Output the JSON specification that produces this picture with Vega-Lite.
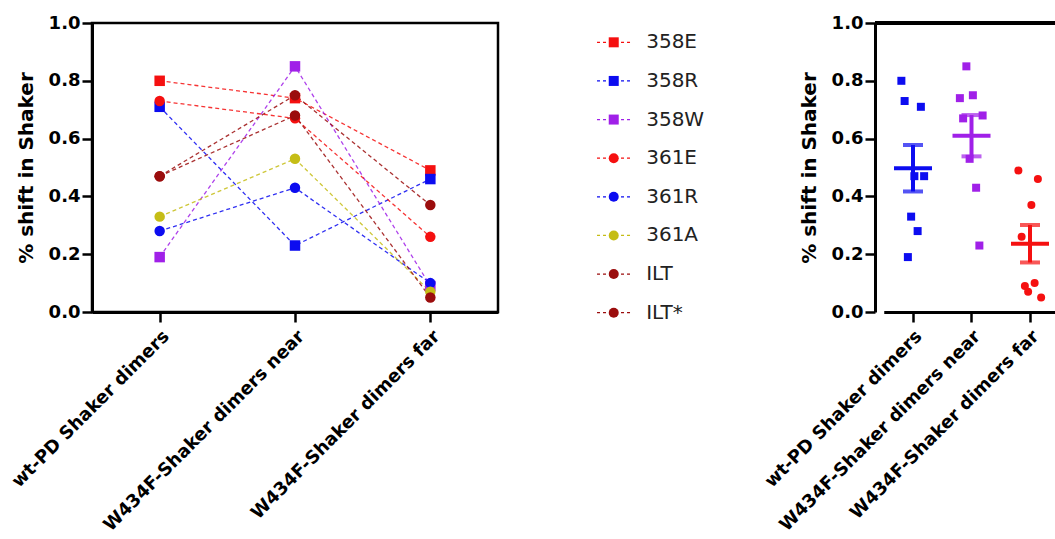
{
  "$schema": "https://vega.github.io/schema/vega-lite/v6.json",
  "padding": {"left": 7, "top": 12, "right": 0, "bottom": 0},
  "background": "white",
  "config": {
    "font": "DejaVu Sans",
    "view": {"stroke": "black", "strokeWidth": 2.5},
    "axis": {
      "domainColor": "black", "domainWidth": 3, "tickColor": "black", "tickWidth": 2.5, "tickSize": 10,
      "labelColor": "black", "labelFont": "DejaVu Sans", "labelFontWeight": "bold", "labelFontSize": 18,
      "titleColor": "black", "titleFont": "DejaVu Sans", "titleFontWeight": "bold", "titleFontSize": 20,
      "grid": false
    }
  },
  "datasets": {
    "shift": [
      {"construct": "358E", "cond": "wt-PD Shaker dimers", "value": 0.80},
      {"construct": "358E", "cond": "W434F-Shaker dimers near", "value": 0.74},
      {"construct": "358E", "cond": "W434F-Shaker dimers far", "value": 0.49},
      {"construct": "358R", "cond": "wt-PD Shaker dimers", "value": 0.71},
      {"construct": "358R", "cond": "W434F-Shaker dimers near", "value": 0.23},
      {"construct": "358R", "cond": "W434F-Shaker dimers far", "value": 0.46},
      {"construct": "358W", "cond": "wt-PD Shaker dimers", "value": 0.19},
      {"construct": "358W", "cond": "W434F-Shaker dimers near", "value": 0.85},
      {"construct": "358W", "cond": "W434F-Shaker dimers far", "value": 0.09},
      {"construct": "361E", "cond": "wt-PD Shaker dimers", "value": 0.73},
      {"construct": "361E", "cond": "W434F-Shaker dimers near", "value": 0.67},
      {"construct": "361E", "cond": "W434F-Shaker dimers far", "value": 0.26},
      {"construct": "361R", "cond": "wt-PD Shaker dimers", "value": 0.28},
      {"construct": "361R", "cond": "W434F-Shaker dimers near", "value": 0.43},
      {"construct": "361R", "cond": "W434F-Shaker dimers far", "value": 0.10},
      {"construct": "361A", "cond": "wt-PD Shaker dimers", "value": 0.33},
      {"construct": "361A", "cond": "W434F-Shaker dimers near", "value": 0.53},
      {"construct": "361A", "cond": "W434F-Shaker dimers far", "value": 0.07},
      {"construct": "ILT", "cond": "wt-PD Shaker dimers", "value": 0.47},
      {"construct": "ILT", "cond": "W434F-Shaker dimers near", "value": 0.75},
      {"construct": "ILT", "cond": "W434F-Shaker dimers far", "value": 0.37},
      {"construct": "ILT*", "cond": "wt-PD Shaker dimers", "value": 0.47},
      {"construct": "ILT*", "cond": "W434F-Shaker dimers near", "value": 0.68},
      {"construct": "ILT*", "cond": "W434F-Shaker dimers far", "value": 0.05}
    ]
  },
  "bounds": "flush",
  "spacing": 100,
  "resolve": {"scale": {"color": "independent", "shape": "independent", "x": "independent", "y": "independent"}},
  "hconcat": [
    {
      "width": 406,
      "height": 289,
      "data": {"name": "shift"},
      "encoding": {
        "x": {"field": "cond", "type": "nominal", "sort": ["wt-PD Shaker dimers", "W434F-Shaker dimers near", "W434F-Shaker dimers far"],
              "scale": {"type": "point", "padding": 0.5},
              "axis": {"title": null, "labelAngle": -45, "labelFontSize": 18, "labelPadding": 5, "labelLimit": 400}},
        "y": {"field": "value", "type": "quantitative", "scale": {"domain": [0, 1], "nice": false},
              "axis": {"title": "% shift in Shaker", "values": [0, 0.2, 0.4, 0.6, 0.8, 1.0], "format": ".1f", "labelPadding": 2, "titlePadding": 12}},
        "color": {"field": "construct", "type": "nominal", "legend": null,
                  "scale": {"domain": ["358E", "358R", "358W", "361E", "361R", "361A", "ILT", "ILT*"],
                            "range": ["#f51010", "#0c0cf0", "#a020e8", "#f51010", "#0c0cf0", "#c5bd16", "#9b0d0d", "#9b0d0d"]}}
      },
      "layer": [
        {"mark": {"type": "line", "strokeDash": [4, 3], "strokeWidth": 1.3, "opacity": 0.85},
         "encoding": {"detail": {"field": "construct"}}},
        {"mark": {"type": "point", "filled": true, "opacity": 1, "size": 110},
         "encoding": {"shape": {"field": "construct", "type": "nominal", "legend": null,
                                "scale": {"domain": ["358E", "358R", "358W", "361E", "361R", "361A", "ILT", "ILT*"],
                                          "range": ["square", "square", "square", "circle", "circle", "circle", "circle", "circle"]}}}}
      ]
    },
    {
      "width": 177,
      "height": 309,
      "view": {"stroke": null},
      "data": {"name": "shift"},
      "transform": [{"filter": "datum.cond === 'wt-PD Shaker dimers'"}],
      "encoding": {
        "y": {"field": "construct", "type": "nominal", "sort": ["358E", "358R", "358W", "361E", "361R", "361A", "ILT", "ILT*"],
              "scale": {"type": "point", "padding": 0.5}, "axis": null},
        "color": {"field": "construct", "type": "nominal", "legend": null,
                  "scale": {"domain": ["358E", "358R", "358W", "361E", "361R", "361A", "ILT", "ILT*"],
                            "range": ["#f51010", "#0c0cf0", "#a020e8", "#f51010", "#0c0cf0", "#c5bd16", "#9b0d0d", "#9b0d0d"]}}
      },
      "layer": [
        {"mark": {"type": "rule", "strokeDash": [3, 3], "strokeWidth": 1.3},
         "encoding": {"x": {"datum": -1, "type": "quantitative", "scale": {"domain": [0, 177]}, "axis": null}, "x2": {"datum": 33}}},
        {"mark": {"type": "point", "filled": true, "opacity": 1, "size": 100},
         "encoding": {"x": {"datum": 16, "type": "quantitative"},
                      "shape": {"field": "construct", "type": "nominal", "legend": null,
                                "scale": {"domain": ["358E", "358R", "358W", "361E", "361R", "361A", "ILT", "ILT*"],
                                          "range": ["square", "square", "square", "circle", "circle", "circle", "circle", "circle"]}}}},
        {"mark": {"type": "text", "align": "left", "baseline": "middle", "fontSize": 20, "font": "DejaVu Sans", "color": "#222222"},
         "encoding": {"x": {"datum": 49, "type": "quantitative"}, "text": {"field": "construct"}, "color": {"value": "#222222"}}}
      ]
    },
    {
      "width": 183,
      "height": 289,
      "view": {"stroke": null},
      "data": {"name": "shift"},
      "encoding": {
        "x": {"field": "cond", "type": "nominal", "sort": ["wt-PD Shaker dimers", "W434F-Shaker dimers near", "W434F-Shaker dimers far"],
              "scale": {"type": "band", "range": [8.75, 184.25], "paddingInner": 0, "paddingOuter": 0},
              "axis": {"title": null, "labelAngle": -45, "labelFontSize": 18, "labelPadding": 5, "labelLimit": 400}},
        "y": {"field": "value", "type": "quantitative", "scale": {"domain": [0, 1], "nice": false},
              "axis": {"title": "% shift in Shaker", "values": [0, 0.2, 0.4, 0.6, 0.8, 1.0], "format": ".1f", "labelPadding": 2, "titlePadding": 12}},
        "color": {"field": "cond", "type": "nominal", "legend": null,
                  "scale": {"domain": ["wt-PD Shaker dimers", "W434F-Shaker dimers near", "W434F-Shaker dimers far"],
                            "range": ["#0c0cf0", "#a020e8", "#f51010"]}}
      },
      "layer": [
        {"mark": {"type": "rule", "color": "black", "strokeWidth": 2.5},
         "encoding": {"y": {"datum": 1}, "x": null, "color": null}},
        {"mark": {"type": "point", "filled": true, "opacity": 1, "size": 64},
         "encoding": {
           "xOffset": {"field": "construct", "type": "nominal",
                       "scale": {"domain": ["358E", "361E", "358W", "361A", "ILT", "361R", "358R", "ILT*"], "range": [16, 42]}},
           "shape": {"field": "cond", "type": "nominal", "legend": null,
                     "scale": {"domain": ["wt-PD Shaker dimers", "W434F-Shaker dimers near", "W434F-Shaker dimers far"],
                               "range": ["square", "square", "circle"]}}}},
        {"mark": {"type": "errorbar", "extent": "stderr", "ticks": true, "thickness": 4, "size": 20},
         "encoding": {"y": {"field": "value", "type": "quantitative"}}},
        {"mark": {"type": "tick", "thickness": 4, "size": 38},
         "encoding": {"y": {"aggregate": "mean", "field": "value", "type": "quantitative"}}}
      ]
    }
  ]
}
